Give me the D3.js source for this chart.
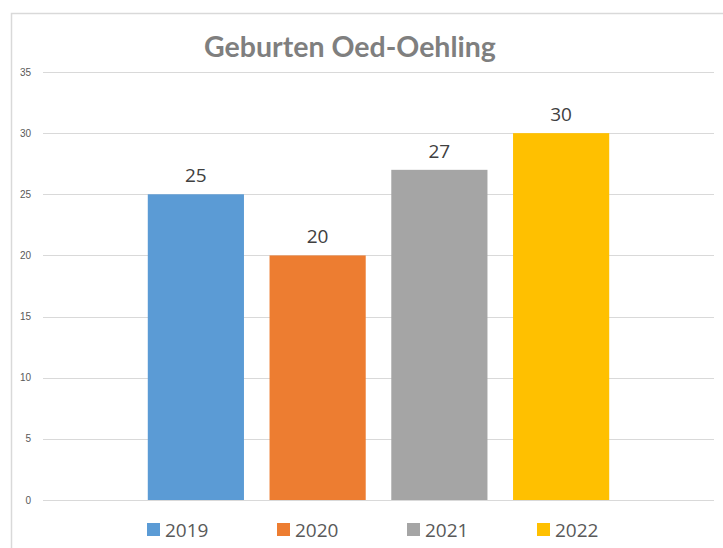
<!DOCTYPE html>
<html>
<head>
<meta charset="utf-8">
<script src="https://cdn.jsdelivr.net/npm/d3@7"></script>
<style>
  body { margin: 0; background: #fff; }
  svg { display: block; }
</style>
</head>
<body>
<script>
// data
const years = ["2019", "2020", "2021", "2022"];
const births = [25, 20, 27, 30];
const colors = ["#5b9bd5", "#ed7d31", "#a5a5a5", "#ffc000"];
const yTicks = [0, 5, 10, 15, 20, 25, 30, 35];
const title = "Geburten Oed-Oehling";

const W = 723, H = 548;

const svg = d3.select("body").append("svg")
    .attr("width", W)
    .attr("height", H);

// chart border (only left + top visible in the shot)
svg.append("rect")
    .attr("x", 11.5).attr("y", 13.5)
    .attr("width", 760).attr("height", 600)
    .attr("fill", "none")
    .attr("stroke", "#d9d9d9")
    .attr("stroke-width", 1.5);

svg.append("text")
    .attr("x", 350).attr("y", 57)
    .attr("text-anchor", "middle")
    .attr("font-family", "Lato, 'Open Sans', sans-serif")
    .attr("font-weight", "bold")
    .attr("font-size", 28.5)
    .attr("fill", "#7f7f7f")
    .text(title);

var y = d3.scaleLinear().domain([0, 35]).range([500, 72]);
var x = d3.scaleBand().domain(years).range([135, 622]).paddingInner(0.21).paddingOuter(0.105);

// gridlines
svg.append("g").selectAll("line")
    .data(yTicks)
    .join("line")
    .attr("x1", 43).attr("x2", 714)
    .attr("y1", d => Math.round(y(d)) + 0.5)
    .attr("y2", d => Math.round(y(d)) + 0.5)
    .attr("stroke", "#d9d9d9")
    .attr("stroke-width", 1);

// y axis labels
svg.append("g").selectAll("text")
    .data(yTicks)
    .join("text")
    .attr("x", 31)
    .attr("y", d => y(d) + 3.5)
    .attr("text-anchor", "end")
    .attr("font-family", "'Liberation Sans', Arial, sans-serif")
    .attr("font-size", 10)
    .attr("fill", "#595959")
    .text(d => d);

// bars
svg.append("g").selectAll("rect")
    .data(years)
    .join("rect")
    .attr("x", d => x(d))
    .attr("y", (d, i) => y(births[i]))
    .attr("width", x.bandwidth())
    .attr("height", (d, i) => y(0) - y(births[i]))
    .attr("fill", (d, i) => colors[i]);

// value labels
svg.append("g").selectAll("text")
    .data(years)
    .join("text")
    .attr("x", d => x(d) + x.bandwidth() / 2)
    .attr("y", (d, i) => y(births[i]) - 12)
    .attr("text-anchor", "middle")
    .attr("font-family", "'Open Sans', sans-serif")
    .attr("font-size", 19)
    .attr("fill", "#404040")
    .text((d, i) => births[i]);

// legend
const legend = svg.append("g").selectAll("g")
    .data(years)
    .join("g")
    .attr("transform", (d, i) => "translate(" + (147 + i * 130) + ",523)");

legend.append("rect")
    .attr("width", 13).attr("height", 13)
    .attr("fill", (d, i) => colors[i]);

legend.append("text")
    .attr("x", 18).attr("y", 13.5)
    .attr("font-family", "'Open Sans', sans-serif")
    .attr("font-size", 19)
    .attr("fill", "#595959")
    .text(d => d);
</script>
</body>
</html>
